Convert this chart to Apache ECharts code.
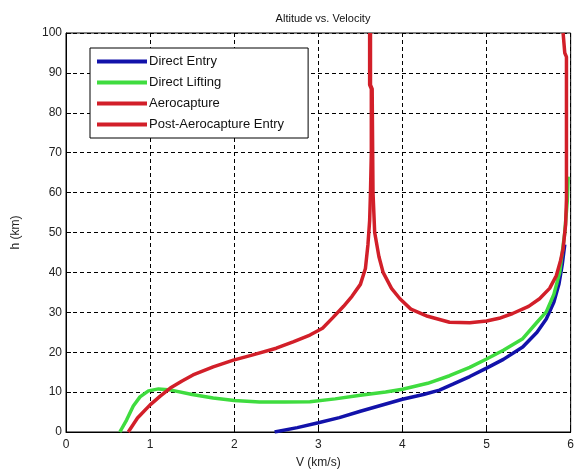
<!DOCTYPE html>
<html>
<head>
<meta charset="utf-8">
<script src="https://cdn.jsdelivr.net/npm/echarts@6/dist/echarts.min.js"></script>
<style>
  html, body { margin: 0; padding: 0; background: #fff; }
  #chart { width: 577px; height: 474px; }
</style>
</head>
<body>
<div id="chart"></div>
<script>
// 数据：每条曲线 [V (km/s), h (km)]
let seriesNames = ['Direct Entry', 'Direct Lifting', 'Aerocapture', 'Post-Aerocapture Entry'];

let directEntry = [
  [2.48, 0], [2.75, 1.1], [3.0, 2.3], [3.25, 3.6], [3.5, 5.2], [3.75, 6.7],
  [4.0, 8.2], [4.25, 9.4], [4.44, 10.5], [4.6, 12], [4.8, 13.9], [5.0, 16],
  [5.2, 18.2], [5.43, 21.3], [5.6, 25], [5.71, 28.3], [5.8, 32.5], [5.86, 37],
  [5.9, 42], [5.93, 47]
];

let directLifting = [
  [0.64, 0], [0.72, 3], [0.8, 6.5], [0.88, 8.8], [0.98, 10.3], [1.1, 10.8],
  [1.25, 10.5], [1.5, 9.4], [1.75, 8.5], [2.0, 7.9], [2.3, 7.5], [2.6, 7.5],
  [2.9, 7.6], [3.2, 8.3], [3.5, 9.2], [3.8, 10], [4.0, 10.7], [4.3, 12.2],
  [4.56, 14.1], [4.8, 16.2], [5.0, 18.3], [5.2, 20.5], [5.43, 23.4], [5.6, 27.5],
  [5.71, 30.1], [5.8, 34.5], [5.87, 40], [5.93, 50], [5.96, 58], [5.97, 64]
];

let aerocapture = [
  [0.74, 0], [0.85, 3.5], [1.0, 6.8], [1.12, 9], [1.24, 11], [1.38, 12.8],
  [1.51, 14.3], [1.75, 16.3], [1.99, 18], [2.2, 19.2], [2.5, 21], [2.7, 22.6],
  [2.9, 24.3], [3.05, 26], [3.17, 28.6], [3.3, 31.5], [3.4, 34], [3.5, 37],
  [3.56, 41], [3.59, 47], [3.61, 53], [3.62, 60], [3.63, 70], [3.63, 86],
  [3.61, 87], [3.61, 100]
];

let postAerocapture = [
  [3.62, 100], [3.62, 87], [3.64, 86], [3.65, 60], [3.67, 50], [3.72, 44],
  [3.77, 40], [3.87, 36], [3.97, 33.4], [4.1, 30.8], [4.3, 29], [4.56, 27.5],
  [4.8, 27.4], [5.0, 27.8], [5.15, 28.5], [5.31, 29.7], [5.5, 31.5], [5.63, 33.4],
  [5.75, 36], [5.83, 39.2], [5.88, 43], [5.91, 45.9], [5.94, 52], [5.95, 58.4],
  [5.95, 70], [5.95, 94], [5.93, 95], [5.91, 100]
];

let seriesColors = ['#1212aa', '#3fdc3f', '#d21f29', '#d21f29'];

let chart = echarts.init(document.getElementById('chart'));

let axisText = { color: '#222', fontFamily: 'Liberation Sans', fontSize: 12 };
let dashLine = { show: true, lineStyle: { color: '#000', width: 1, type: [4, 3] } };

let lineSeries = (name, data, color) => ({
  name: name,
  type: 'line',
  data: data,
  showSymbol: false,
  symbol: 'none',
  animation: false,
  lineStyle: { width: 3.5, color: color },
  itemStyle: { color: color }
});

let option = {
  backgroundColor: '#fff',
  animation: false,
  title: {
    text: 'Altitude vs. Velocity',
    left: 318,
    textAlign: 'center',
    top: 8,
    textStyle: { fontFamily: 'Liberation Sans', fontSize: 11, fontWeight: 'normal', color: '#111' }
  },
  grid: {
    left: 66, right: 6, top: 33, bottom: 40,
    show: true, borderColor: '#000', borderWidth: 1
  },
  legend: {
    orient: 'vertical',
    left: 90,
    top: 48,
    icon: 'rect',
    itemWidth: 50,
    itemHeight: 4,
    itemGap: 8,
    padding: [7, 24, 7, 7],
    backgroundColor: '#fff',
    borderColor: '#000',
    borderWidth: 1,
    borderRadius: 0,
    textStyle: { fontFamily: 'Liberation Sans', fontSize: 13, color: '#111', padding: [0, 0, 0, -3] },
    data: seriesNames
  },
  xAxis: {
    type: 'value',
    min: 0, max: 6, interval: 1,
    name: 'V (km/s)',
    nameLocation: 'middle',
    nameGap: 25,
    nameTextStyle: axisText,
    axisLine: { show: true, lineStyle: { color: '#000' } },
    axisTick: { show: true, inside: true, length: 5, lineStyle: { color: '#000' } },
    axisLabel: Object.assign({ margin: 7 }, axisText),
    splitLine: dashLine
  },
  yAxis: {
    type: 'value',
    min: 0, max: 100, interval: 10,
    name: 'h (km)',
    nameLocation: 'middle',
    nameRotate: 90,
    nameGap: 44,
    nameTextStyle: axisText,
    axisLine: { show: true, lineStyle: { color: '#000' } },
    axisTick: { show: true, inside: true, length: 5, lineStyle: { color: '#000' } },
    axisLabel: Object.assign({ margin: 4 }, axisText),
    splitLine: dashLine
  },
  series: [
    lineSeries(seriesNames[0], directEntry, seriesColors[0]),
    lineSeries(seriesNames[1], directLifting, seriesColors[1]),
    lineSeries(seriesNames[2], aerocapture, seriesColors[2]),
    lineSeries(seriesNames[3], postAerocapture, seriesColors[3])
  ]
};

option && chart.setOption(option);
</script>
</body>
</html>
